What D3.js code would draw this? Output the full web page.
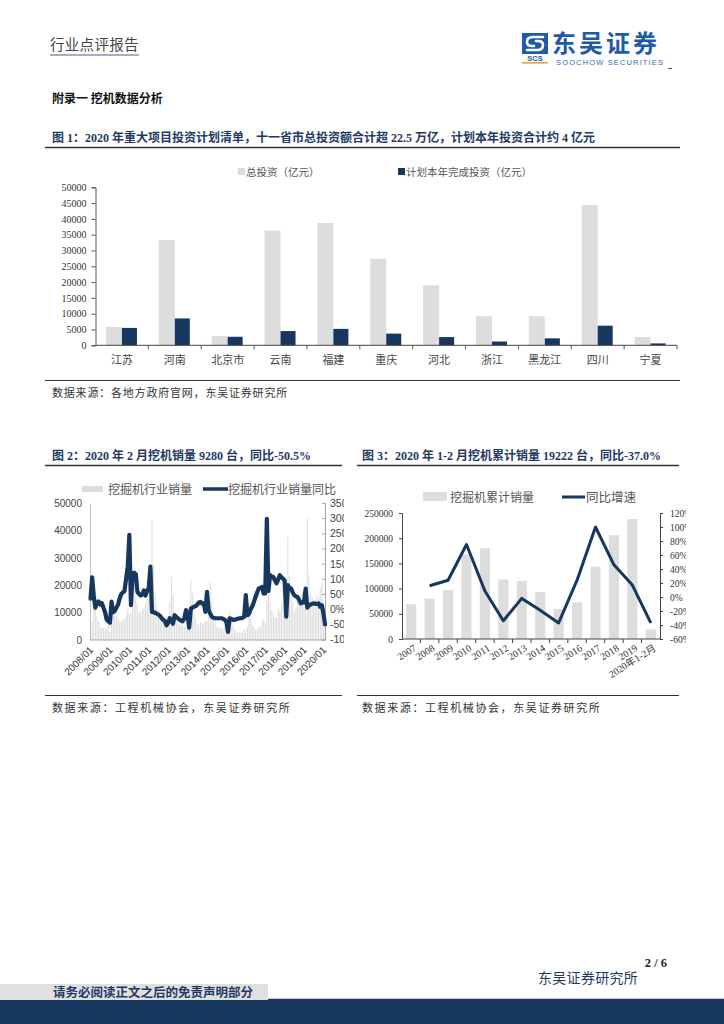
<!DOCTYPE html>
<html><head><meta charset="utf-8">
<script src="https://cdn.jsdelivr.net/npm/d3@7/dist/d3.min.js"></script>
<style>
html,body{margin:0;padding:0;background:#fff;}
svg{display:block;}
</style></head>
<body>
<svg id="page" width="724" height="1024"></svg>
<script>
// ---------- DATA ----------
// Figure 1
const provinces = ["江苏","河南","北京市","云南","福建","重庆","河北","浙江","黑龙江","四川","宁夏"];
const totalInvest = [5800,33300,2900,36300,38700,27400,19000,9200,9200,44400,2600];
const plannedInvest = [5500,8500,2700,4500,5200,3700,2600,1200,2200,6200,600];
const fig1Ticks = [0,5000,10000,15000,20000,25000,30000,35000,40000,45000,50000];

// Figure 2 (monthly, 2008/01 - 2020/02)
const monthlySales = [
  5400,6500,12400,12000,8600,6900,4800,4300,4500,4200,3900,5600,
  3000,5600,10800,10300,8800,8000,6800,6900,7500,7600,9200,11500,
  9600,9800,25000,22800,15900,13100,10400,10000,11000,11500,13500,15400,
  14500,15900,44000,27500,17000,12300,9000,8800,9100,8000,8000,8500,
  7000,14000,23000,16800,10300,8200,6000,5800,6100,5300,5100,5000,
  4700,10200,22000,17200,10000,7500,5800,5500,6500,6200,6000,7000,
  7000,8500,21000,14200,9000,6700,4800,4200,4400,4200,3700,4700,
  4200,4500,10500,8600,5600,4200,3200,2700,3000,2700,3000,4000,
  3400,4800,13300,9800,5600,4700,3600,3700,5000,5000,6600,7700,
  6700,14700,23000,14000,11000,10000,8100,8100,11700,10500,12700,14000,
  14000,11000,37800,23300,17000,14000,10300,11800,14100,12900,14300,17600,
  11800,18700,44300,23800,17100,16000,12200,14700,16500,15300,18800,21000,
  9900,9280
];
const monthlyYoY = [
  35,105,45,5,20,25,15,20,5,-10,-35,-40,
  -45,25,-10,-5,5,15,35,50,55,60,100,140,
  245,13,117,120,115,57,50,45,48,62,45,60,
  70,140,-9,-10,-12,-15,-18,-22,-30,-35,-40,-53,
  -45,-30,-38,-48,-20,-25,-30,-35,-38,-40,-30,-3,
  -20,-61,2,5,8,10,15,22,24,18,19,-9,
  57,-3,-15,-25,-28,-30,-30,-30,-30,-30,-32,-35,
  -42,-75,-30,-32,-35,-35,-33,-32,-30,-30,-28,-25,
  46,-20,-14,0,10,24,40,55,68,70,73,52,
  52,298,60,112,108,106,95,85,98,112,105,101,
  95,-25,79,70,68,55,46,42,40,30,19,24,
  22,68,5,12,15,18,19,18,17,19,8,13,
  -15,-50.5
];
const monthLabels = [];
for (let y = 2008; y <= 2020; y++) for (let m = 1; m <= 12; m++) {
  if (monthLabels.length < monthlySales.length) monthLabels.push(y + "/" + String(m).padStart(2, "0"));
}
const fig2YearTicks = ["2008/01","2009/01","2010/01","2011/01","2012/01","2013/01","2014/01","2015/01","2016/01","2017/01","2018/01","2019/01","2020/01"];
const fig2LeftTicks = [0,10000,20000,30000,40000,50000];
const fig2RightTicks = [-100,-50,0,50,100,150,200,250,300,350];

// Figure 3
const years = ["2007","2008","2009","2010","2011","2012","2013","2014","2015","2016","2017","2018","2019","2020年1-2月"];
const cumSales = [69000,80000,97000,168000,180000,118000,115000,93000,59500,72800,143500,206000,238000,19222];
const growthRate = [null,16,24,75,8.5,-34,-2,-19,-37,24,100,46,17,-37];
const fig3LeftTicks = [0,50000,100000,150000,200000,250000];
const fig3RightTicks = [-60,-40,-20,0,20,40,60,80,100,120];

// ---------- STYLE ----------
const CJK = "'Noto Sans CJK SC', sans-serif";
const SERIF = "'Liberation Serif', 'Noto Sans CJK SC', serif";
const SANS = "'Liberation Sans', 'Noto Sans CJK SC', sans-serif";
const NAVY = "#17375E";
const BARGRAY = "#DDDDDD";
const TITLE = "#1F3864";

const svg = d3.select("#page");

function txt(x, y, s, opts) {
  const t = svg.append("text").attr("x", x).attr("y", y).text(s);
  t.style("font-family", opts.font || CJK).style("font-size", (opts.size || 11) + "px")
   .style("fill", opts.fill || "#333").style("font-weight", opts.weight || "normal");
  if (opts.ls) t.style("letter-spacing", opts.ls + "px");
  if (opts.anchor) t.attr("text-anchor", opts.anchor);
  return t;
}
function hline(x1, x2, y, color, w) {
  svg.append("line").attr("x1", x1).attr("x2", x2).attr("y1", y).attr("y2", y)
    .attr("stroke", color).attr("stroke-width", w);
}

// ---------- HEADER ----------
txt(50, 50, "行业点评报告", {size: 14.5, fill: "#444", ls: 0.3});
hline(50, 139, 55, "#8595AD", 1.5);

// logo
const logo = svg.append("g");
logo.append("rect").attr("x", 522).attr("y", 33).attr("width", 26).attr("height", 21).attr("fill", "#1E5AA8");
logo.append("path").attr("d", "M543,37 L533,37 Q527,37 527,42 Q527,46 532,46 L534,46")
  .attr("fill", "none").attr("stroke", "#fff").attr("stroke-width", 2.6).attr("stroke-linecap", "round");
logo.append("path").attr("d", "M527,50 L537,50 Q543,50 543,45 Q543,41 538,41 L536,41")
  .attr("fill", "none").attr("stroke", "#fff").attr("stroke-width", 2.6).attr("stroke-linecap", "round");
logo.append("text").attr("x", 535).attr("y", 61).attr("text-anchor", "middle").text("SCS")
  .style("font-family", SANS).style("font-size", "7.5px").style("font-weight", "bold").style("fill", "#1E5AA8");
logo.append("rect").attr("x", 522).attr("y", 62).attr("width", 26).attr("height", 1.6).attr("fill", "#F0A030");
txt(552, 52, "东吴证券", {size: 24, weight: "bold", fill: "#1E5AA8", ls: 3});
svg.append("text").attr("x", 556).attr("y", 64.5).text("SOOCHOW SECURITIES")
  .attr("textLength", 107).style("font-family", SANS).style("font-size", "7.5px").style("fill", "#2B6CB7");
hline(668, 672, 68.5, "#555", 1);

txt(52, 103, "附录一 挖机数据分析", {size: 12, weight: "bold", fill: "#111"});

// ---------- FIGURE 1 ----------
txt(52, 141.5, "图 1：2020 年重大项目投资计划清单，十一省市总投资额合计超 22.5 万亿，计划本年投资合计约 4 亿元",
  {font: SERIF, size: 12, weight: "bold", fill: TITLE});
hline(45, 680, 147.5, "#333", 1.5);

svg.append("rect").attr("x", 238).attr("y", 168).attr("width", 7).attr("height", 7).attr("fill", BARGRAY);
txt(246, 176, "总投资（亿元）", {size: 10.5, fill: "#555"});
svg.append("rect").attr("x", 398).attr("y", 168).attr("width", 7).attr("height", 7).attr("fill", NAVY);
txt(406, 176, "计划本年完成投资（亿元）", {size: 10.5, fill: "#555"});

const x1 = d3.scaleBand().domain(provinces).range([95.5, 677]).padding(0);
const y1 = d3.scaleLinear().domain([0, 50000]).range([345.3, 187.3]);
const g1 = svg.append("g");
const bw1 = 16;
g1.selectAll(".tot").data(provinces).join("rect")
  .attr("x", d => x1(d) + x1.bandwidth() / 2 - bw1).attr("width", bw1)
  .attr("y", (d, i) => y1(totalInvest[i])).attr("height", (d, i) => y1(0) - y1(totalInvest[i]))
  .attr("fill", BARGRAY);
g1.selectAll(".pln").data(provinces).join("rect")
  .attr("x", d => x1(d) + x1.bandwidth() / 2).attr("width", bw1 - 1)
  .attr("y", (d, i) => y1(plannedInvest[i])).attr("height", (d, i) => y1(0) - y1(plannedInvest[i]))
  .attr("fill", NAVY);

const ax1 = g1.append("g").attr("transform", "translate(95.5,0)")
  .call(d3.axisLeft(y1).tickValues(fig1Ticks).tickSize(4).tickPadding(5).tickFormat(d3.format("d")));
ax1.selectAll("text").style("font-family", SERIF).style("font-size", "10px").style("fill", "#333");
ax1.selectAll("line,path").attr("stroke", "#555");

g1.append("line").attr("x1", 95.5).attr("x2", 677).attr("y1", y1(0)).attr("y2", y1(0)).attr("stroke", "#444").attr("stroke-width", 1);
provinces.forEach((p, i) => {
  if (i > 0) g1.append("line").attr("x1", x1(p)).attr("x2", x1(p)).attr("y1", y1(0)).attr("y2", y1(0) + 4).attr("stroke", "#555");
});
g1.append("line").attr("x1", 677).attr("x2", 677).attr("y1", y1(0)).attr("y2", y1(0) + 4).attr("stroke", "#555");
g1.selectAll(".cat").data(provinces).join("text")
  .attr("x", d => x1(d) + x1.bandwidth() / 2).attr("y", 364).attr("text-anchor", "middle")
  .text(d => d).style("font-family", CJK).style("font-size", "11px").style("fill", "#444");

hline(45, 680, 380.5, "#333", 1);
txt(52, 397, "数据来源：各地方政府官网，东吴证券研究所", {size: 11, fill: "#333", ls: 0.8});

// ---------- FIGURE 2 ----------
txt(52, 459.5, "图 2：2020 年 2 月挖机销量 9280 台，同比-50.5%", {font: SERIF, size: 12, weight: "bold", fill: TITLE});
hline(45, 342, 465.5, "#333", 1.5);

svg.append("rect").attr("x", 82).attr("y", 486).attr("width", 21).attr("height", 6).attr("fill", BARGRAY);
txt(108, 494, "挖掘机行业销量", {size: 12, fill: "#555"});
hline(203, 228, 489, NAVY, 3.5);
txt(228, 494, "挖掘机行业销量同比", {size: 12, fill: "#555"});

const x2 = d3.scaleBand().domain(d3.range(monthlySales.length)).range([90, 325.6]).paddingInner(0.35);
const y2L = d3.scaleLinear().domain([0, 50000]).range([640, 503]);
const y2R = d3.scaleLinear().domain([-100, 350]).range([639.5, 503]);
const g2 = svg.append("g");
g2.selectAll("rect").data(monthlySales).join("rect")
  .attr("x", (d, i) => x2(i)).attr("width", x2.bandwidth())
  .attr("y", d => y2L(d)).attr("height", d => y2L(0) - y2L(d)).attr("fill", BARGRAY);

const ax2L = g2.append("g").attr("transform", "translate(90,0)")
  .call(d3.axisLeft(y2L).tickValues(fig2LeftTicks).tickSize(0).tickPadding(8).tickFormat(d3.format("d")));
ax2L.selectAll("text").style("font-family", SANS).style("font-size", "10px").style("fill", "#444");
ax2L.select("path").attr("stroke", "#BFBFBF");

const ax2R = g2.append("g").attr("transform", "translate(325,0)")
  .call(d3.axisRight(y2R).tickValues(fig2RightTicks).tickSize(-3).tickPadding(5).tickFormat(d => d + "%"));
ax2R.selectAll("text").style("font-family", SANS).style("font-size", "10.5px").style("fill", "#444").attr("clip-path", "url(#clip2b)");
ax2R.selectAll("line,path").attr("stroke", "#A6A6A6");
svg.append("clipPath").attr("id", "clip2b").append("rect").attr("x", -330).attr("y", -50).attr("width", 349).attr("height", 100);

g2.append("line").attr("x1", 90).attr("x2", 325.6).attr("y1", 640).attr("y2", 640).attr("stroke", "#A6A6A6");

const line2 = d3.line().x((d, i) => x2(i) + x2.bandwidth() / 2).y(d => y2R(d)).curve(d3.curveLinear);
g2.append("path").datum(monthlyYoY).attr("d", line2).attr("fill", "none")
  .attr("stroke", NAVY).attr("stroke-width", 4.2).attr("stroke-linejoin", "round").attr("stroke-linecap", "round");

fig2YearTicks.forEach(lbl => {
  const i = monthLabels.indexOf(lbl);
  const cx = x2(i) + x2.bandwidth() / 2;
  g2.append("text").attr("transform", `translate(${cx + 1},${648}) rotate(-45)`)
    .attr("text-anchor", "end").attr("dy", "0.35em").text(lbl)
    .style("font-family", SANS).style("font-size", "10px").style("fill", "#333");
});

hline(45, 342, 695.5, "#333", 1);
txt(52, 712, "数据来源：工程机械协会，东吴证券研究所", {size: 11, fill: "#333", ls: 1.6});

// ---------- FIGURE 3 ----------
txt(362, 459.5, "图 3：2020 年 1-2 月挖机累计销量 19222 台，同比-37.0%", {font: SERIF, size: 12, weight: "bold", fill: TITLE});
hline(357, 679, 465.5, "#333", 1.5);

svg.append("rect").attr("x", 423).attr("y", 492).attr("width", 24).attr("height", 9).attr("fill", BARGRAY);
txt(450, 502, "挖掘机累计销量", {size: 12, fill: "#555"});
hline(562, 585, 497, NAVY, 3);
txt(586, 502, "同比增速", {size: 12.5, fill: "#555"});

const x3 = d3.scaleBand().domain(years).range([402, 660]).paddingInner(0.45).paddingOuter(0.225);
const y3L = d3.scaleLinear().domain([0, 250000]).range([639, 513]);
const y3R = d3.scaleLinear().domain([-60, 120]).range([639, 513]);
const g3 = svg.append("g");
g3.selectAll("rect").data(years).join("rect")
  .attr("x", d => x3(d)).attr("width", x3.bandwidth())
  .attr("y", (d, i) => y3L(cumSales[i])).attr("height", (d, i) => y3L(0) - y3L(cumSales[i]))
  .attr("fill", BARGRAY);

const ax3L = g3.append("g").attr("transform", "translate(402,0)")
  .call(d3.axisLeft(y3L).tickValues(fig3LeftTicks).tickSize(3).tickPadding(6).tickFormat(d3.format("d")));
ax3L.selectAll("text").style("font-family", SERIF).style("font-size", "9.5px").style("fill", "#333");
ax3L.selectAll("line,path").attr("stroke", "#444");

const ax3R = g3.append("g").attr("transform", "translate(660,0)")
  .call(d3.axisRight(y3R).tickValues(fig3RightTicks).tickSize(3).tickPadding(7).tickFormat(d => d + "%"));
ax3R.selectAll("text").style("font-family", SERIF).style("font-size", "9.5px").style("fill", "#333").attr("clip-path", "url(#clip3)");
ax3R.selectAll("line,path").attr("stroke", "#444");
svg.append("clipPath").attr("id", "clip3").append("rect").attr("x", 0).attr("y", -50).attr("width", 26).attr("height", 100);

g3.append("line").attr("x1", 402).attr("x2", 660).attr("y1", 639).attr("y2", 639).attr("stroke", "#444");
years.forEach((yv, i) => {
  const bx = x3(yv) - x3.step() * x3.paddingInner() / 2;
  if (i > 0) g3.append("line").attr("x1", bx).attr("x2", bx).attr("y1", 639).attr("y2", 643).attr("stroke", "#444");
});
years.forEach(yv => {
  const cx = x3(yv) + x3.bandwidth() / 2;
  g3.append("text").attr("transform", `translate(${cx + 4},${647}) rotate(-32)`)
    .attr("text-anchor", "end").attr("dy", "0.35em").text(yv)
    .style("font-family", SERIF).style("font-size", "10px").style("fill", "#333");
});

const line3 = d3.line().defined(d => d != null)
  .x((d, i) => x3(years[i]) + x3.bandwidth() / 2).y(d => y3R(d));
g3.append("path").datum(growthRate).attr("d", line3).attr("fill", "none")
  .attr("stroke", NAVY).attr("stroke-width", 3).attr("stroke-linejoin", "round");

hline(357, 679, 695.5, "#333", 1);
txt(362, 712, "数据来源：工程机械协会，东吴证券研究所", {size: 11, fill: "#333", ls: 1.6});

// ---------- FOOTER ----------
txt(667, 967, "2 / 6", {font: SERIF, size: 12.5, weight: "bold", fill: "#222", anchor: "end"});
txt(538, 983, "东吴证券研究所", {size: 14, fill: TITLE, ls: 0.3});
svg.append("rect").attr("x", 0).attr("y", 999).attr("width", 724).attr("height", 25).attr("fill", "#17375E");
hline(268, 724, 998.5, "#C9CED6", 1);
svg.append("rect").attr("x", 0).attr("y", 984).attr("width", 268).attr("height", 16).attr("fill", "#E0E0E0");
txt(53, 996.5, "请务必阅读正文之后的免责声明部分", {size: 12.5, weight: "bold", fill: "#1F3864"});
</script>
</body></html>
